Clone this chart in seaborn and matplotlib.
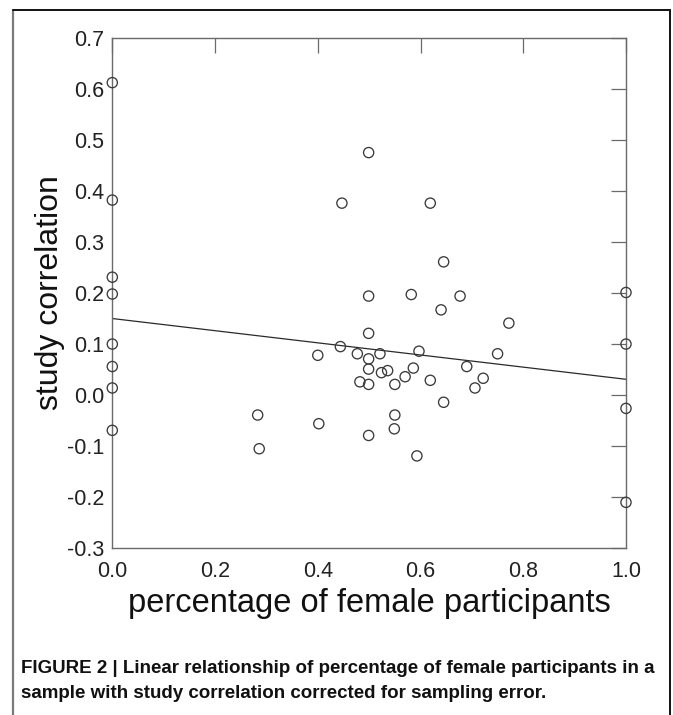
import numpy as np
import pandas as pd
import matplotlib
matplotlib.use("Agg")
import matplotlib.pyplot as plt
import seaborn as sns
from matplotlib.lines import Line2D

# ---- data ----
pct_female = [
    0.0, 0.0, 0.0, 0.0, 0.0, 0.0, 0.0, 0.0,
    1.0, 1.0, 1.0, 1.0,
    0.283, 0.286, 0.400, 0.402,
    0.499, 0.447, 0.619, 0.645, 0.499, 0.582, 0.677, 0.640, 0.772,
    0.499, 0.444, 0.477, 0.499, 0.521, 0.597, 0.750,
    0.499, 0.524, 0.536, 0.586, 0.690, 0.570, 0.722,
    0.482, 0.499, 0.550, 0.619, 0.706, 0.645, 0.550, 0.549, 0.499, 0.593,
]
study_corr = [
    0.612, 0.382, 0.231, 0.198, 0.100, 0.056, 0.014, -0.069,
    0.201, 0.100, -0.026, -0.210,
    -0.039, -0.105, 0.078, -0.056,
    0.475, 0.376, 0.376, 0.261, 0.194, 0.197, 0.194, 0.167, 0.141,
    0.121, 0.095, 0.081, 0.071, 0.081, 0.086, 0.081,
    0.051, 0.044, 0.048, 0.053, 0.056, 0.036, 0.033,
    0.026, 0.021, 0.021, 0.029, 0.014, -0.014, -0.039, -0.066, -0.079, -0.119,
]
fit_x = [0.0, 1.0]
fit_y = [0.150, 0.031]

x_ticks = [0.0, 0.2, 0.4, 0.6, 0.8, 1.0]
x_ticklabels = ["0.0", "0.2", "0.4", "0.6", "0.8", "1.0"]
y_ticks = [-0.3, -0.2, -0.1, 0.0, 0.1, 0.2, 0.3, 0.4, 0.5, 0.6, 0.7]
y_ticklabels = ["-0.3", "-0.2", "-0.1", "0.0", "0.1", "0.2", "0.3", "0.4", "0.5", "0.6", "0.7"]

x_title = "percentage of female participants"
y_title = "study correlation"
caption_1 = "FIGURE 2 | Linear relationship of percentage of female participants in a"
caption_2 = "sample with study correlation corrected for sampling error."

df = pd.DataFrame({"pct": pct_female, "corr": study_corr})
fit_df = pd.DataFrame({"x": fit_x, "y": fit_y})

sns.set_style("white")
plt.rcParams["font.family"] = ["Liberation Sans", "DejaVu Sans"]
plt.rcParams["axes.unicode_minus"] = False

W, H = 673, 715
fig = plt.figure(figsize=(W / 100, H / 100), dpi=100)
fig.patch.set_facecolor("white")

L, R, T, B = 112.3, 626.0, 37.7, 548.3
ax = fig.add_axes([L / W, 1 - B / H, (R - L) / W, (B - T) / H])
ax.set_facecolor("white")

sns.lineplot(data=fit_df, x="x", y="y", ax=ax, color="#2a2a2a", linewidth=0.9)
sns.scatterplot(data=df, x="pct", y="corr", ax=ax, marker="o", s=54, clip_on=False, zorder=3)
for coll in ax.collections:
    coll.set_facecolor("none")
    coll.set_edgecolor("#3a3a3a")
    coll.set_linewidth(0.95)
    coll.set_clip_on(False)

ax.set_xlim(0, 1)
ax.set_ylim(-0.3, 0.7)
ax.set_xticks(x_ticks)
ax.set_xticklabels(x_ticklabels)
ax.set_yticks(y_ticks)
ax.set_yticklabels(y_ticklabels)

spine_col = "#6a6a6a"
for s in ax.spines.values():
    s.set_visible(True)
    s.set_color(spine_col)
    s.set_linewidth(1.0)

ax.tick_params(axis="both", direction="in", length=11, width=0.9, color=spine_col,
               top=True, right=True, labeltop=False, labelright=False,
               labelsize=15.5, labelcolor="#222222")
ax.tick_params(axis="y", pad=6)
ax.tick_params(axis="x", pad=9)

ax.set_xlabel(x_title, fontsize=23.5, color="#111111")
ax.set_ylabel(y_title, fontsize=23, color="#111111")
ax.xaxis.label.set_va("baseline")
ax.xaxis.set_label_coords(0.5, (B - 611.7) / (B - T))
ax.yaxis.label.set_va("baseline")
ax.yaxis.set_label_coords((58.3 - L) / (R - L), 0.5)

# outer panel frame
fig.add_artist(Line2D([13 / W, 13 / W], [1 - 10 / H, 0], transform=fig.transFigure,
                      color="#7a7a7a", linewidth=1.6))
fig.add_artist(Line2D([13 / W, 670 / W], [1 - 10 / H, 1 - 10 / H], transform=fig.transFigure,
                      color="#111111", linewidth=1.4))
fig.add_artist(Line2D([670 / W, 670 / W], [1 - 10 / H, 0], transform=fig.transFigure,
                      color="#111111", linewidth=1.4))

fig.text(21 / W, 1 - 673.3 / H, caption_1, fontsize=13.5, fontweight="bold",
         va="baseline", ha="left", color="#111111")
fig.text(21 / W, 1 - 698.3 / H, caption_2, fontsize=13.5, fontweight="bold",
         va="baseline", ha="left", color="#111111")

fig.savefig("out.png", dpi=100)
